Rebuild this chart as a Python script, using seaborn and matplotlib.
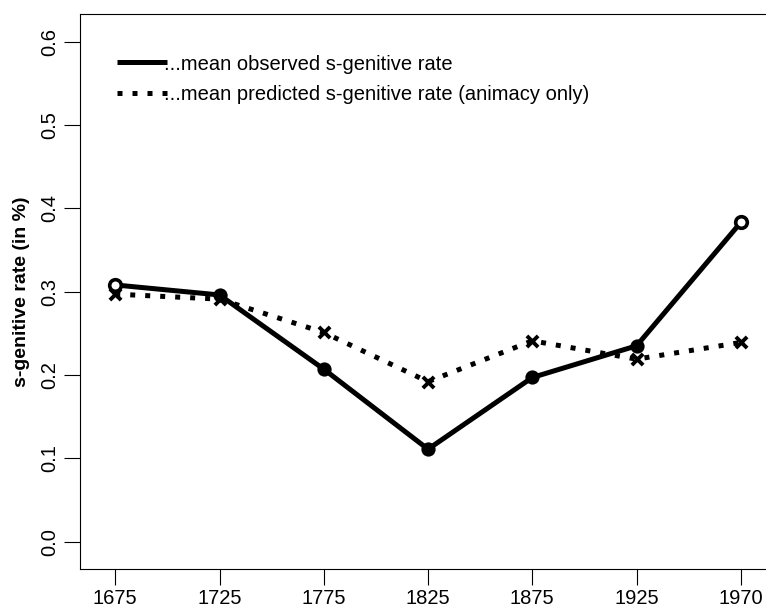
import numpy as np
import pandas as pd
import matplotlib
matplotlib.use("Agg")
import matplotlib.pyplot as plt
import seaborn as sns

# data
periods = ["1675", "1725", "1775", "1825", "1875", "1925", "1970"]
observed = [0.308, 0.296, 0.207, 0.111, 0.197, 0.235, 0.383]
predicted = [0.297, 0.291, 0.251, 0.192, 0.241, 0.219, 0.239]
open_marker = [True, False, False, False, False, False, True]
y_ticks = [0.0, 0.1, 0.2, 0.3, 0.4, 0.5, 0.6]

sns.set_style("ticks")
plt.rcParams.update({
    "font.family": ["Liberation Sans", "DejaVu Sans"],
    "font.size": 14.5,
    "text.color": "black", "axes.labelcolor": "black",
    "axes.linewidth": 0.8,
    "xtick.major.size": 11.5, "ytick.major.size": 11.5,
    "xtick.major.width": 0.8, "ytick.major.width": 0.8,
    "xtick.major.pad": 3.0, "ytick.major.pad": 3.5,
    "xtick.color": "black", "ytick.color": "black",
    "axes.edgecolor": "black",
})

df = pd.DataFrame({"period": periods, "observed": observed,
                   "predicted": predicted, "open": open_marker})
df["pos"] = np.arange(1, len(df) + 1)

W, H = 766, 608
fig = plt.figure(figsize=(W / 100, H / 100), dpi=100)
ax = fig.add_axes([80 / W, (H - 569) / H, (770 - 80) / W, (569 - 14) / H])

sns.lineplot(data=df, x="pos", y="predicted", ax=ax, color="black", lw=3.6,
             linestyle=(0, (1, 2)), label="...mean predicted s-genitive rate (animacy only)",
             zorder=2)
sns.lineplot(data=df, x="pos", y="observed", ax=ax, color="black", lw=3.6,
             label="...mean observed s-genitive rate", zorder=3)
for line in ax.get_lines():
    line.set_solid_capstyle("butt")
    line.set_dash_capstyle("butt")

sns.scatterplot(data=df, x="pos", y="predicted", ax=ax, marker="x", s=65,
                color="black", linewidth=2.8, zorder=4, legend=False)
sns.scatterplot(data=df[~df["open"]], x="pos", y="observed", ax=ax, marker="o",
                s=105, color="black", edgecolor="black", linewidth=0, zorder=5,
                legend=False)
sns.scatterplot(data=df[df["open"]], x="pos", y="observed", ax=ax, marker="o",
                s=70, facecolor="white", edgecolor="black", linewidth=2.6,
                zorder=5, legend=False)

ax.set_xlim(0.662, 7.28)
ax.set_ylim(-0.0327, 0.633)
ax.set_xticks(df["pos"])
ax.set_xticklabels(periods)
ax.set_yticks(y_ticks)
ax.set_yticklabels([f"{v:.1f}" for v in y_ticks], rotation=90, va="center")
ax.set_xlabel("")
ax.set_ylabel("s-genitive rate (in %)", fontweight="bold", fontsize=14)
ax.yaxis.set_label_coords(-0.072, 0.5)
for s in ax.spines.values():
    s.set_visible(True)

h, l = ax.get_legend_handles_labels()
ax.legend([h[1], h[0]], [l[1], l[0]], loc="upper left",
          bbox_to_anchor=((117 - 80) / 690, 0.927), frameon=False,
          borderpad=0, borderaxespad=0, handlelength=2.5,
          handletextpad=-0.15, labelspacing=0.58)

fig.savefig("out.png", dpi=100)
